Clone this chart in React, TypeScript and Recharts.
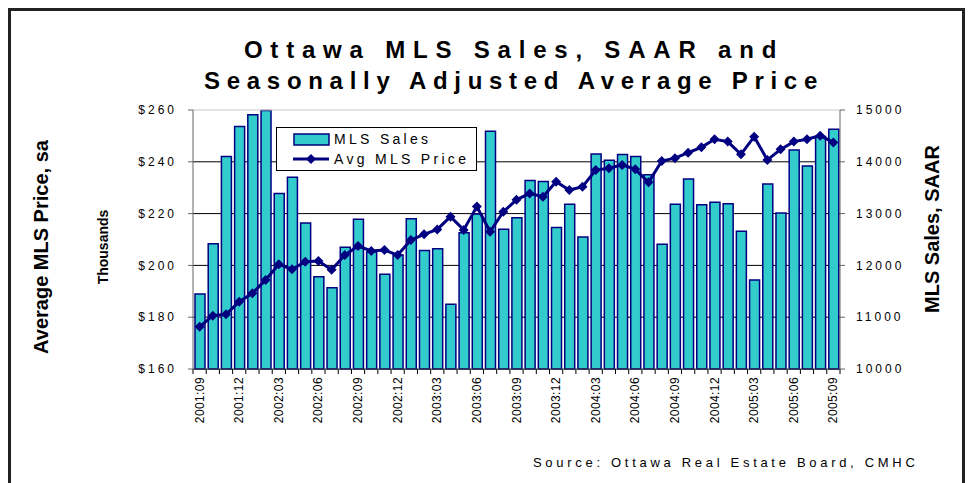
import React from "react";
import {
  ComposedChart,
  Bar,
  Line,
  XAxis,
  YAxis,
  CartesianGrid,
  ReferenceLine,
  Legend,
} from "recharts";

const months = [
  "2001:09", "2001:10", "2001:11", "2001:12",
  "2002:01", "2002:02", "2002:03", "2002:04", "2002:05", "2002:06",
  "2002:07", "2002:08", "2002:09", "2002:10", "2002:11", "2002:12",
  "2003:01", "2003:02", "2003:03", "2003:04", "2003:05", "2003:06",
  "2003:07", "2003:08", "2003:09", "2003:10", "2003:11", "2003:12",
  "2004:01", "2004:02", "2004:03", "2004:04", "2004:05", "2004:06",
  "2004:07", "2004:08", "2004:09", "2004:10", "2004:11", "2004:12",
  "2005:01", "2005:02", "2005:03", "2005:04", "2005:05", "2005:06",
  "2005:07", "2005:08", "2005:09",
];

// MLS sales, SAAR (right axis)
const mlsSales = [
  11450, 12420, 14100, 14680,
  14910, 14990, 13390, 13700, 12820, 11780,
  11570, 12350, 12890, 12260, 11830, 12200,
  12900, 12290, 12320, 11250, 12630, 12990,
  14590, 12700, 12920, 13640, 13620, 12730,
  13180, 12550, 14150, 14030, 14140, 14100,
  13750, 12410, 13180, 13670, 13170, 13220,
  13190, 12660, 11720, 13570, 13010, 14230,
  13920, 14490, 14630,
];

// average MLS price, sa, in thousands (left axis)
const avgPrice = [
  176.3, 180.6, 181.1, 186.0,
  189.2, 194.4, 200.4, 198.5, 201.4, 201.7,
  198.3, 204.0, 207.5, 205.6, 205.9, 204.0,
  209.8, 212.0, 213.9, 218.8, 213.7, 222.7,
  213.0, 220.7, 225.3, 227.8, 226.5, 232.3,
  229.1, 230.4, 236.8, 237.5, 238.8, 237.1,
  232.1, 240.3, 241.4, 243.5, 245.6, 248.7,
  247.8, 242.9, 249.7, 240.7, 244.8, 247.8,
  248.7, 250.1, 247.5,
];

const priceTicks = [160, 180, 200, 220, 240, 260];
const salesTicks = [10000, 11000, 12000, 13000, 14000, 15000];

const data = months.map((m, i) => ({ month: m, sales: mlsSales[i], price: avgPrice[i] }));

const W = 971;
const H = 483;
const LEFT_W = 193;
const RIGHT_W = 131;
const step = (W - LEFT_W - RIGHT_W) / months.length;
const FONT = "'Liberation Sans', Arial, sans-serif";
const NAVY = "#000080";
const TEAL = "#33CCCC";

function Diamond(props: any) {
  const { cx, cy, index } = props;
  if (cx == null || cy == null) return null;
  const r = 5;
  return (
    <polygon
      key={index}
      points={`${cx},${cy - r} ${cx + r},${cy} ${cx},${cy + r} ${cx - r},${cy}`}
      fill={NAVY}
    />
  );
}

function MonthTick(props: any) {
  const { x, y, payload, index } = props;
  const bx = x - step / 2;
  return (
    <g>
      <line x1={bx} x2={bx} y1={y} y2={y + 5} stroke="#000" />
      {index === months.length - 1 && (
        <line x1={x + step / 2} x2={x + step / 2} y1={y} y2={y + 5} stroke="#000" />
      )}
      {index % 3 === 0 && (
        <text
          x={x}
          y={y + 8}
          transform={`rotate(-90 ${x} ${y + 8})`}
          textAnchor="end"
          dominantBaseline="central"
          fontSize={12}
          letterSpacing={0.4}
          fill="#000"
        >
          {payload.value}
        </text>
      )}
    </g>
  );
}

function LegendBox() {
  return (
    <div
      style={{
        width: 199,
        height: 42,
        border: "1px solid #000",
        background: "#fff",
        fontFamily: FONT,
        fontSize: 14,
        letterSpacing: 3.3,
        color: "#000",
        position: "relative",
      }}
    >
      <svg width={199} height={42} style={{ position: "absolute", left: 0, top: 0 }}>
        <rect x={17} y={6} width={35} height={11} fill={TEAL} stroke={NAVY} strokeWidth={1.5} />
        <text x={57} y={16} fontSize={14}>MLS Sales</text>
        <line x1={16} x2={52} y1={31} y2={31} stroke={NAVY} strokeWidth={3} />
        <polygon points="34,26 39,31 34,36 29,31" fill={NAVY} />
        <text x={57} y={36} fontSize={14}>Avg MLS Price</text>
      </svg>
    </div>
  );
}

export default function App() {
  return (
    <div
      style={{
        position: "absolute",
        left: 0,
        top: 0,
        width: W,
        height: H,
        overflow: "hidden",
        background: "#fff",
        fontFamily: FONT,
      }}
    >
      <div
        style={{
          position: "absolute",
          left: 8,
          top: 8,
          width: 951,
          height: 500,
          border: "3px solid #222",
        }}
      />
      <div style={{ position: "absolute", left: 0, top: 0 }}>
        <ComposedChart
          width={W}
          height={H}
          data={data}
          margin={{ top: 110, right: 0, left: 0, bottom: 54 }}
          barCategoryGap={3}
        >
          <CartesianGrid
            yAxisId="sales"
            vertical={false}
            horizontalValues={[11000, 12000, 13000, 14000]}
            stroke="#000"
            strokeWidth={1}
          />
          <ReferenceLine yAxisId="sales" y={15000} stroke="#c8c8c8" strokeWidth={1} />
          <XAxis
            dataKey="month"
            interval={0}
            tickSize={0}
            tickMargin={0}
            tickLine={false}
            axisLine={{ stroke: "#333" }}
            tick={<MonthTick />}
            height={60}
          />
          <YAxis
            yAxisId="price"
            orientation="left"
            width={LEFT_W}
            domain={[160, 260]}
            ticks={priceTicks}
            tickFormatter={(v: number) => `$${v}`}
            tickSize={5}
            tickMargin={11}
            axisLine={{ stroke: "#666" }}
            tickLine={{ stroke: "#666" }}
            tick={{ fill: "#000", fontSize: 12, letterSpacing: 3 }}
          />
          <YAxis
            yAxisId="sales"
            orientation="right"
            width={RIGHT_W}
            domain={[10000, 15000]}
            ticks={salesTicks}
            tickSize={5}
            tickMargin={11}
            axisLine={{ stroke: "#666" }}
            tickLine={{ stroke: "#666" }}
            tick={{ fill: "#000", fontSize: 12, letterSpacing: 3, textAnchor: "start" }}
          />
          <Bar
            yAxisId="sales"
            dataKey="sales"
            name="MLS Sales"
            barSize={10}
            fill={TEAL}
            stroke={NAVY}
            strokeWidth={1.5}
            isAnimationActive={false}
          />
          <Line
            yAxisId="price"
            dataKey="price"
            name="Avg MLS Price"
            type="linear"
            stroke={NAVY}
            strokeWidth={3}
            dot={<Diamond />}
            activeDot={false}
            isAnimationActive={false}
          />
          <Legend
            layout="vertical"
            align="center"
            verticalAlign="middle"
            content={<LegendBox />}
            wrapperStyle={{ position: "absolute", left: 276, top: 127, width: 201, height: 44 }}
          />
        </ComposedChart>
      </div>
      <svg
        width={W}
        height={H}
        style={{ position: "absolute", left: 0, top: 0, pointerEvents: "none", fontFamily: FONT }}
      >
        <text x={514} y={58} textAnchor="middle" fontSize={24} fontWeight="bold" letterSpacing={7.8}>
          Ottawa MLS Sales, SAAR and
        </text>
        <text x={514} y={89} textAnchor="middle" fontSize={24} fontWeight="bold" letterSpacing={6.7}>
          Seasonally Adjusted Average Price
        </text>
        <text
          x={48}
          y={247}
          transform="rotate(-90 48 247)"
          textAnchor="middle"
          fontSize={20}
          fontWeight="bold"
        >
          Average MLS Price, sa
        </text>
        <text
          x={108}
          y={247}
          transform="rotate(-90 108 247)"
          textAnchor="middle"
          fontSize={14}
          fontWeight="bold"
        >
          Thousands
        </text>
        <text
          x={939}
          y={229}
          transform="rotate(-90 939 229)"
          textAnchor="middle"
          fontSize={20}
          fontWeight="bold"
        >
          MLS Sales, SAAR
        </text>
        <text x={533} y={467} fontSize={13} letterSpacing={3.7}>
          Source: Ottawa Real Estate Board, CMHC
        </text>
      </svg>
    </div>
  );
}
